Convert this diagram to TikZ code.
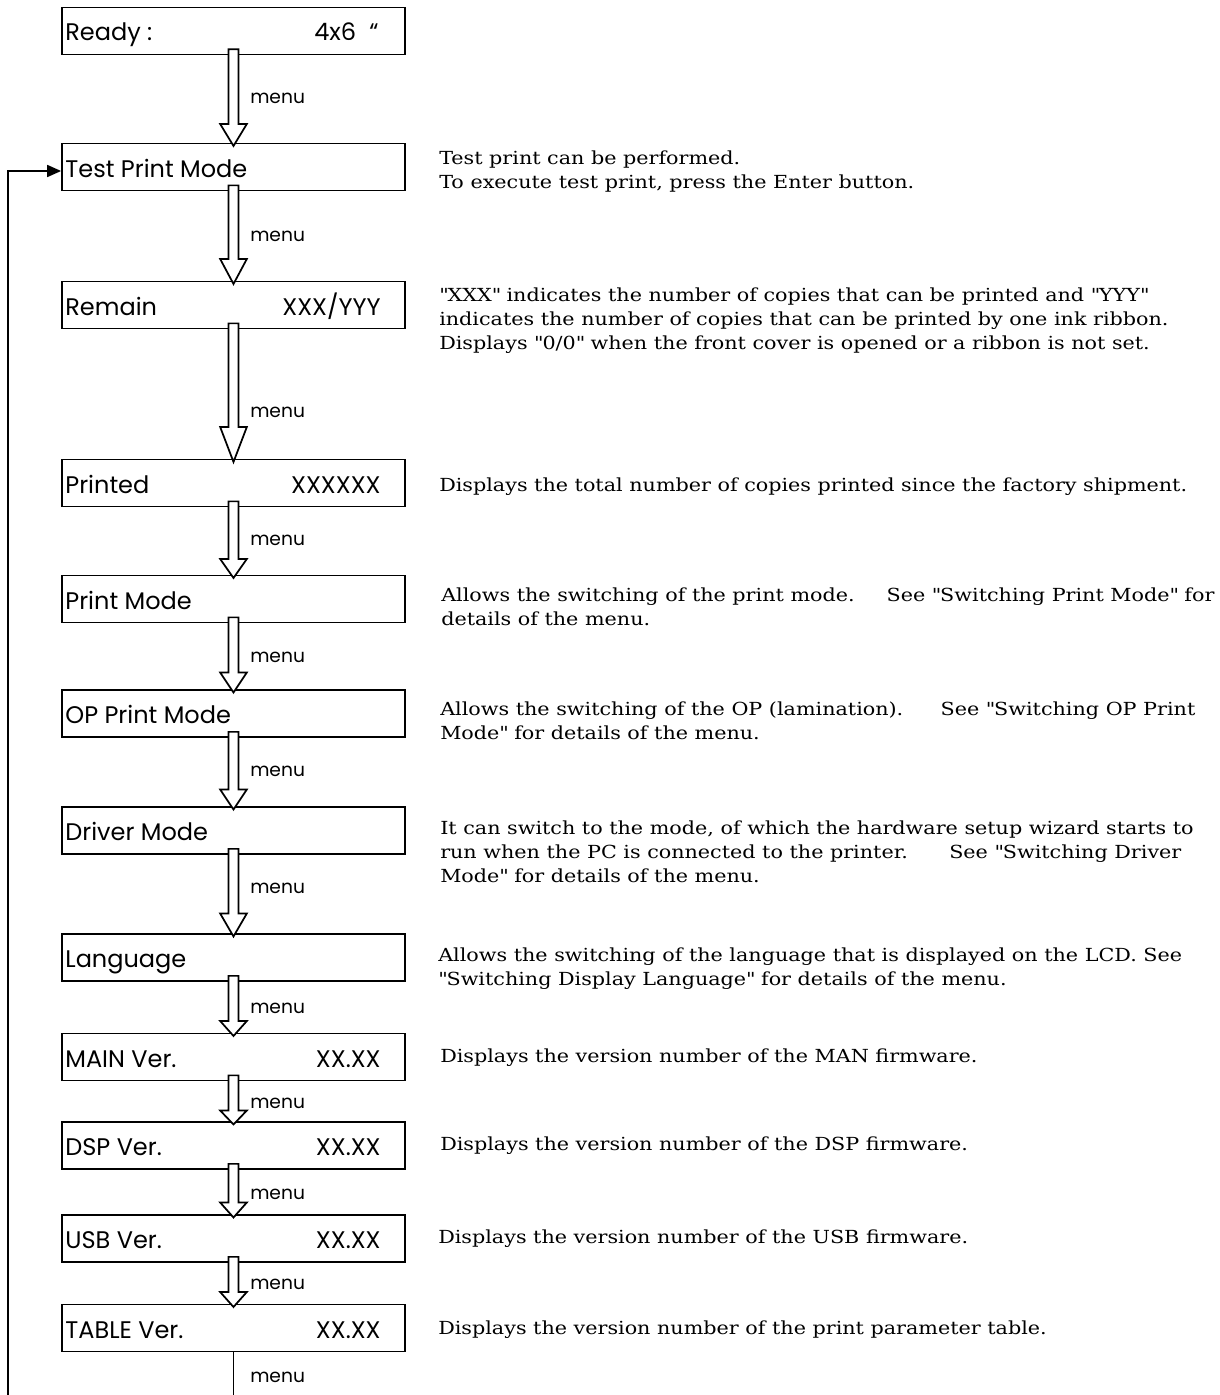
\documentclass[tikz,border=0pt]{standalone}
\usepackage{fontspec}
\setmainfont[FakeStretch=1.15]{DejaVu Serif}
\newfontfamily\lcdfont{Poppins}
\usetikzlibrary{arrows.meta}
\usetikzlibrary{calc}

\newcommand{\q}{\textquotedbl}

\tikzset{
  lcdbox/.style={draw, line width=1.3pt, minimum width=257.25pt, minimum height=35.25pt, inner sep=0pt},
  lcdtext/.style={font=\lcdfont\fontsize{18}{20}\selectfont, inner sep=0pt},
  menutext/.style={font=\lcdfont\fontsize{14}{16}\selectfont, anchor=west, inner sep=0pt},
  desc/.style={anchor=base west, align=left, inner sep=0pt, font=\fontsize{13.5}{18}\selectfont},
  blockarrow/.style={draw, line width=1.3pt, fill=white, line join=miter,
    to path={let \p1=(\tikztostart), \p2=(\tikztotarget) in
      (\x1-3.75pt,\y1+4.5pt) -- (\x1-3.75pt,\y2-2.5pt+#1) -- (\x1-10pt,\y2-2.5pt+#1)
      -- (\x1,\y2-2.5pt) -- (\x1+10pt,\y2-2.5pt+#1) -- (\x1+3.75pt,\y2-2.5pt+#1)
      -- (\x1+3.75pt,\y1+4.5pt) -- cycle}},
}

\begin{document}
\begin{tikzpicture}[x=0.75pt, y=-0.75pt]
            \useasboundingbox (0,0) rectangle (1220,1395);

            % display boxes
            \node[lcdbox] (ready) at (233.5,31) {};
            \node[lcdbox] (test) at (233.5,167) {};
            \node[lcdbox] (remain) at (233.5,305) {};
            \node[lcdbox] (printed) at (233.5,483) {};
            \node[lcdbox] (pmode) at (233.5,599) {};
            \node[lcdbox] (opmode) at (233.5,713.5) {};
            \node[lcdbox] (driver) at (233.5,830.5) {};
            \node[lcdbox] (lang) at (233.5,957.5) {};
            \node[lcdbox] (mainver) at (233.5,1057) {};
            \node[lcdbox] (dspver) at (233.5,1145.5) {};
            \node[lcdbox] (usbver) at (233.5,1238.5) {};
            \node[lcdbox] (tablever) at (233.5,1328) {};

            \node[lcdtext, anchor=base west] (ready-l) at ($(ready.west)+(4,10)$) {Ready :};
            \node[lcdtext, anchor=base east] (ready-r) at ($(ready.east)+(-27,10)$) {4x6\hspace{10pt}“};
            \node[lcdtext, anchor=base west] (test-l) at ($(test.west)+(4,10)$) {Test Print Mode};
            \node[lcdtext, anchor=base west] (remain-l) at ($(remain.west)+(4,10)$) {Remain};
            \node[lcdtext, anchor=base east] (remain-r) at ($(remain.east)+(-25,10)$) {XXX/YYY};
            \node[lcdtext, anchor=base west] (printed-l) at ($(printed.west)+(4,10)$) {Printed};
            \node[lcdtext, anchor=base east] (printed-r) at ($(printed.east)+(-25,10)$) {XXXXXX};
            \node[lcdtext, anchor=base west] (pmode-l) at ($(pmode.west)+(4,10)$) {Print Mode};
            \node[lcdtext, anchor=base west] (opmode-l) at ($(opmode.west)+(4,10)$) {OP Print Mode};
            \node[lcdtext, anchor=base west] (driver-l) at ($(driver.west)+(4,10)$) {Driver Mode};
            \node[lcdtext, anchor=base west] (lang-l) at ($(lang.west)+(4,10)$) {Language};
            \node[lcdtext, anchor=base west] (mainver-l) at ($(mainver.west)+(4,10)$) {MAIN Ver.};
            \node[lcdtext, anchor=base east] (mainver-r) at ($(mainver.east)+(-25,10)$) {XX.XX};
            \node[lcdtext, anchor=base west] (dspver-l) at ($(dspver.west)+(4,10)$) {DSP Ver.};
            \node[lcdtext, anchor=base east] (dspver-r) at ($(dspver.east)+(-25,10)$) {XX.XX};
            \node[lcdtext, anchor=base west] (usbver-l) at ($(usbver.west)+(4,10)$) {USB Ver.};
            \node[lcdtext, anchor=base east] (usbver-r) at ($(usbver.east)+(-25,10)$) {XX.XX};
            \node[lcdtext, anchor=base west] (tablever-l) at ($(tablever.west)+(4,10)$) {TABLE Ver.};
            \node[lcdtext, anchor=base east] (tablever-r) at ($(tablever.east)+(-25,10)$) {XX.XX};

            % menu arrows
            \draw[blockarrow=16.5pt] (ready.south) to (test.north);
            \draw[blockarrow=18.75pt] (test.south) to (remain.north);
            \draw[blockarrow=26.25pt] (remain.south) to (printed.north);
            \draw[blockarrow=14.25pt] (printed.south) to (pmode.north);
            \draw[blockarrow=15pt] (pmode.south) to (opmode.north);
            \draw[blockarrow=15pt] (opmode.south) to (driver.north);
            \draw[blockarrow=17.25pt] (driver.south) to (lang.north);
            \draw[blockarrow=11.25pt] (lang.south) to (mainver.north);
            \draw[blockarrow=10.5pt] (mainver.south) to (dspver.north);
            \draw[blockarrow=11.25pt] (dspver.south) to (usbver.north);
            \draw[blockarrow=11.25pt] (usbver.south) to (tablever.north);

            \node[menutext] (m1) at (250,98) {menu};
            \node[menutext] (m2) at (250,236) {menu};
            \node[menutext] (m3) at (250,412) {menu};
            \node[menutext] (m4) at (250,540) {menu};
            \node[menutext] (m5) at (250,657) {menu};
            \node[menutext] (m6) at (250,771) {menu};
            \node[menutext] (m7) at (250,888) {menu};
            \node[menutext] (m8) at (250,1008) {menu};
            \node[menutext] (m9) at (250,1103) {menu};
            \node[menutext] (m10) at (250,1194) {menu};
            \node[menutext] (m11) at (250,1284) {menu};
            \node[menutext] (m12) at (250,1377) {menu};

            % tail and return line
            \coordinate (tailend) at (233.5,1395);
            \draw[line width=1.3pt] (tablever.south) -- (tailend);
            \coordinate (loopend) at (8,1395);
            \draw[line width=1.3pt, -{Triangle[length=10.5pt,width=9pt]}] (loopend) |- ($(test.west)+(0,4)$);

            % descriptions (base = last line)
            \node[desc] (test-d) at (439,188) {Test print can be performed.\\To execute test print, press the Enter button.};
            \node[desc] (remain-d) at (439,349) {\q XXX\q{} indicates the number of copies that can be printed and \q YYY\q\\indicates the number of copies that can be printed by one ink ribbon.\\Displays \q 0/0\q{} when the front cover is opened or a ribbon is not set.};
            \node[desc] (printed-d) at (439,491) {Displays the total number of copies printed since the factory shipment.};
            \node[desc] (pmode-d) at (441,625) {Allows the switching of the print mode.\hspace{24pt}See \q Switching Print Mode\q{} for\\details of the menu.};
            \node[desc] (opmode-d) at (440,739) {Allows the switching of the OP (lamination).\hspace{28pt}See \q Switching OP Print\\Mode\q{} for details of the menu.};
            \node[desc] (driver-d) at (440,882) {It can switch to the mode, of which the hardware setup wizard starts to\\run when the PC is connected to the printer.\hspace{31pt}See \q Switching Driver\\Mode\q{} for details of the menu.};
            \node[desc] (lang-d) at (438,985) {Allows the switching of the language that is displayed on the LCD. See\\\q Switching Display Language\q{} for details of the menu.};
            \node[desc] (mainver-d) at (440,1062) {Displays the version number of the MAN firmware.};
            \node[desc] (dspver-d) at (440,1150) {Displays the version number of the DSP firmware.};
            \node[desc] (usbver-d) at (438,1243) {Displays the version number of the USB firmware.};
            \node[desc] (tablever-d) at (438,1334) {Displays the version number of the print parameter table.};
        \end{tikzpicture}
\end{document}
